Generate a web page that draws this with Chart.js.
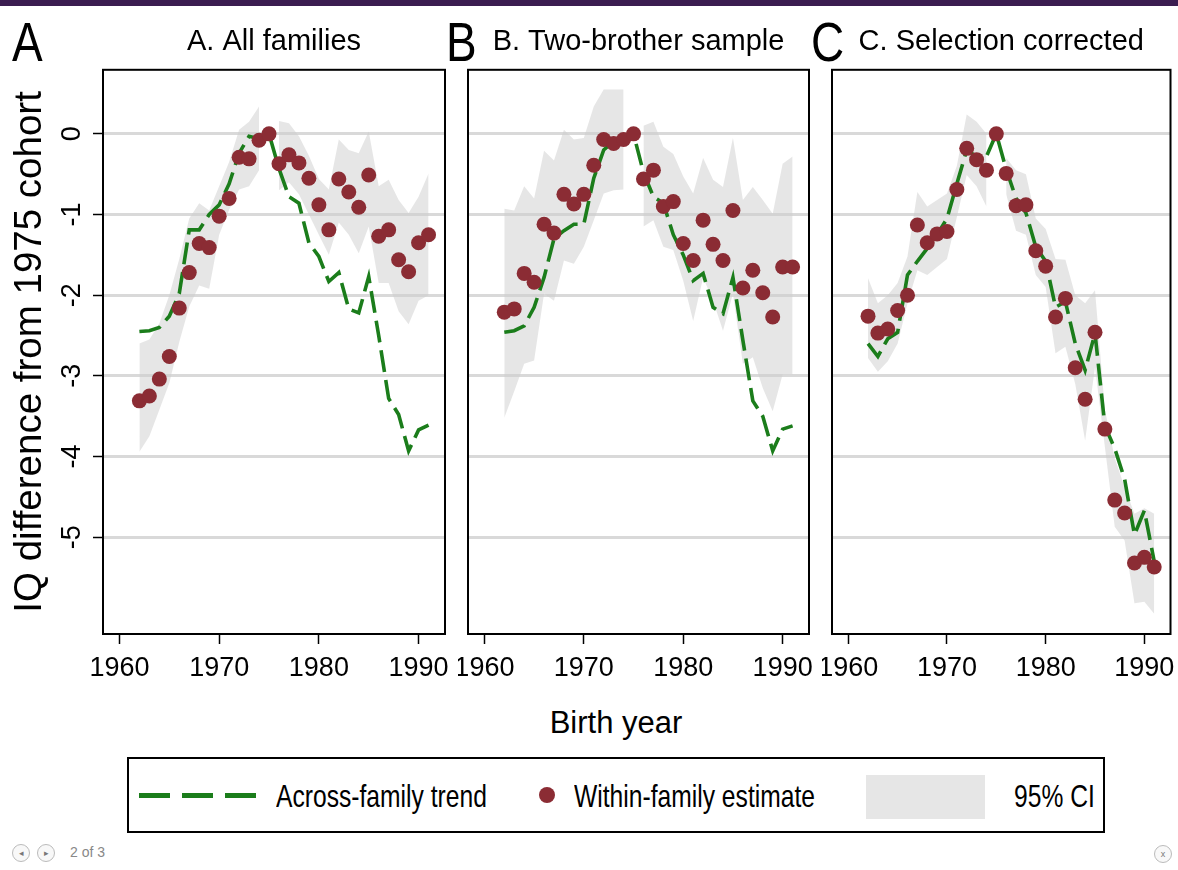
<!DOCTYPE html>
<html>
<head>
<meta charset="utf-8">
<script src="https://cdn.jsdelivr.net/npm/chart.js@4.4.0/dist/chart.umd.min.js"></script>
<style>
  html, body { margin: 0; padding: 0; background: #fff; }
  #page { position: relative; width: 1178px; height: 870px; overflow: hidden; background: #fff;
          font-family: 'Liberation Sans', Arial, sans-serif; color: #000; }
  .topbar { position: absolute; left: 0; top: 0; width: 1178px; height: 6px; background: #3b1d50; }
  canvas { position: absolute; top: 0; }
  .narrow { display: inline-block; transform: scaleX(0.82); transform-origin: 0 0; white-space: nowrap; }
  .letter { position: absolute; top: 10px; font-size: 56px; line-height: 64px; }
  .xtitle { position: absolute; left: 516px; width: 200px; top: 703px; text-align: center; font-size: 31px; line-height: 40px; }
  #legend { position: absolute; left: 127px; top: 757px; width: 974px; height: 72px; border: 2px solid #000; box-sizing: content-box; }
  #legend .item { position: absolute; }
  #legend .txt { position: absolute; top: 17px; line-height: 40px; font-size: 32px; white-space: nowrap; }
  #legend .txt span { transform: scaleX(0.77); }
  .nav { position: absolute; top: 844px; width: 16px; height: 16px; border-radius: 50%; border: 1px solid #bbb;
         font-size: 9px; line-height: 16px; text-align: center; color: #777; background: #f8f8f8; }
  .navtxt { position: absolute; left: 70px; top: 843px; font-size: 14px; line-height: 18px; color: #888; }
</style>
</head>
<body>
<div id="page">
  <div class="topbar"></div>
  <canvas id="panelA" width="460" height="694" style="left:0px"></canvas>
  <canvas id="panelB" width="362" height="694" style="left:458px"></canvas>
  <canvas id="panelC" width="356" height="694" style="left:822px"></canvas>

  <div class="letter" style="left:12px"><span class="narrow">A</span></div>
  <div class="letter" style="left:446px"><span class="narrow">B</span></div>
  <div class="letter" style="left:811px"><span class="narrow">C</span></div>

  <div class="xtitle">Birth year</div>

  <div id="legend">
    <div class="item" style="left:10px;top:34px;width:117px;height:5px;background:repeating-linear-gradient(to right,#1b7d1b 0 31px,transparent 31px 43px);"></div>
    <div class="txt" style="left:147px"><span class="narrow">Across-family trend</span></div>
    <div class="item" style="left:410px;top:28px;width:16px;height:16px;border-radius:50%;background:#8b2c34;"></div>
    <div class="txt" style="left:445px"><span class="narrow">Within-family estimate</span></div>
    <div class="item" style="left:737px;top:16px;width:119px;height:44px;background:#e6e6e6;"></div>
    <div class="txt" style="left:885px"><span class="narrow">95% CI</span></div>
  </div>

  <div class="nav" style="left:12px">&#9666;</div>
  <div class="nav" style="left:37px">&#9656;</div>
  <div class="navtxt">2 of 3</div>
  <div class="nav" style="left:1154px;top:845px">x</div>
</div>

<script>
// Birth cohorts on the horizontal axis
const years = [1962, 1963, 1964, 1965, 1966, 1967, 1968, 1969, 1970, 1971,
               1972, 1973, 1974, 1975, 1976, 1977, 1978, 1979, 1980, 1981,
               1982, 1983, 1984, 1985, 1986, 1987, 1988, 1989, 1990, 1991];

const xTickValues = [1960, 1970, 1980, 1990];
const xTickLabels = ['1960', '1970', '1980', '1990'];
const yTickValues = [0, -1, -2, -3, -4, -5];
const yTickLabels = ['0', '-1', '-2', '-3', '-4', '-5'];

const panelTitles = ['A. All families', 'B. Two-brother sample', 'C. Selection corrected'];

// A. All families
const withinA = [-3.31, -3.25, -3.04, -2.76, -2.16, -1.72, -1.36, -1.41, -1.02, -0.80,
                 -0.29, -0.31, -0.08, 0.00, -0.37, -0.26, -0.36, -0.55, -0.88, -1.19,
                 -0.56, -0.72, -0.91, -0.51, -1.27, -1.19, -1.56, -1.71, -1.35, -1.25];
const acrossA = [-2.45, -2.44, -2.40, -2.26, -1.98, -1.19, -1.19, -1.00, -0.88, -0.62,
                 -0.24, -0.03, -0.06, 0.00, -0.43, -0.78, -0.86, -1.35, -1.52, -1.83,
                 -1.72, -2.17, -2.22, -1.77, -2.50, -3.28, -3.48, -3.93, -3.67, -3.61];
const ciHighA = [-2.60, -2.55, -2.35, -2.00, -1.55, -1.05, -0.86, -0.95, -0.65, -0.35,
                 0.05, 0.15, 0.34, null, 0.16, 0.13, -0.03, -0.27, -0.56, -0.69,
                 -0.07, -0.20, -0.24, 0.03, -0.65, -0.57, -0.82, -0.98, -0.78, -0.49];
const ciLowA  = [-3.94, -3.75, -3.42, -3.09, -2.58, -2.14, -1.88, -1.92, -1.25, -0.94,
                 -0.69, -0.65, -0.45, null, -0.70, -0.60, -0.75, -1.00, -1.25, -1.50,
                 -1.10, -1.25, -1.48, -1.15, -1.85, -1.85, -2.20, -2.36, -2.07, -2.00];

// B. Two-brother sample
const withinB = [-2.21, -2.17, -1.73, -1.84, -1.12, -1.23, -0.75, -0.87, -0.75, -0.39,
                 -0.07, -0.12, -0.07, 0.00, -0.56, -0.45, -0.90, -0.84, -1.36, -1.57,
                 -1.07, -1.37, -1.57, -0.95, -1.91, -1.69, -1.97, -2.27, -1.65, -1.65];
const acrossB = [-2.46, -2.44, -2.38, -2.15, -1.78, -1.30, -1.20, -1.12, -1.12, -0.55,
                 -0.20, -0.09, -0.05, 0.00, -0.48, -0.78, -0.86, -1.25, -1.50, -1.82,
                 -1.73, -2.15, -2.23, -1.78, -2.56, -3.31, -3.50, -3.93, -3.66, -3.62];
const ciHighB = [-0.93, -0.95, -0.65, -0.80, -0.21, -0.33, 0.05, -0.07, -0.05, 0.34,
                 0.55, 0.55, 0.55, null, 0.10, 0.15, -0.16, -0.25, -0.53, -0.74,
                 -0.30, -0.57, -0.66, -0.05, -0.82, -0.66, -0.82, -0.99, -0.37, -0.28];
const ciLowB  = [-3.52, -3.19, -2.85, -2.81, -1.98, -2.07, -1.57, -1.61, -1.40, -1.07,
                 -0.74, -0.70, -0.69, null, -1.15, -1.07, -1.40, -1.44, -1.82, -2.32,
                 -1.78, -2.07, -2.44, -1.98, -2.85, -2.77, -3.15, -3.44, -2.98, -2.98];

// C. Selection corrected
const withinC = [-2.26, -2.47, -2.42, -2.19, -2.00, -1.13, -1.35, -1.24, -1.21, -0.69,
                 -0.18, -0.32, -0.45, 0.00, -0.49, -0.89, -0.88, -1.45, -1.64, -2.27,
                 -2.04, -2.90, -3.29, -2.46, -3.66, -4.54, -4.70, -5.32, -5.25, -5.37];
const acrossC = [-2.60, -2.76, -2.54, -2.46, -1.75, -1.58, -1.42, -1.25, -1.05, -0.62,
                 -0.20, -0.28, -0.28, 0.00, -0.44, -0.80, -0.98, -1.40, -1.58, -2.15,
                 -2.08, -2.60, -2.93, -2.47, -3.62, -3.90, -4.28, -4.97, -4.67, -5.30];
const ciHighC = [-1.79, -2.10, -2.00, -1.85, -1.52, -0.72, -0.90, -0.82, -0.74, -0.40,
                 0.24, 0.15, 0.00, null, -0.30, -0.45, -0.50, -1.05, -1.18, -1.55,
                 -1.56, -2.00, -2.10, -1.94, -3.42, -4.02, -4.38, -4.71, -4.64, -4.71];
const ciLowC  = [-2.78, -2.95, -2.82, -2.60, -2.10, -1.69, -1.75, -1.65, -1.55, -1.03,
                 -0.51, -0.65, -0.90, null, -0.75, -1.20, -1.25, -1.75, -1.90, -2.72,
                 -2.64, -3.10, -3.80, -2.89, -3.88, -4.87, -5.04, -5.82, -5.80, -5.95];

const GREEN = '#1b7d1b';
const DOT = '#8b2c34';
const BAND = 'rgba(205,205,205,0.5)';
const SANS = "'Liberation Sans', Arial, sans-serif";

const X_MIN = 1958.35, X_MAX = 1992.65;
const Y_MIN = -6.2, Y_MAX = 0.794;

// Black box around each plot region
const framePlugin = {
  id: 'frame',
  afterDatasetsDraw(chart) {
    const { ctx, chartArea: a } = chart;
    ctx.save();
    ctx.strokeStyle = '#000';
    ctx.lineWidth = 2;
    ctx.strokeRect(a.left, a.top, a.right - a.left, a.bottom - a.top);
    ctx.restore();
  }
};

function series(values) {
  return years.map((yr, i) => ({ x: yr, y: values[i] }));
}

function makePanel(canvasId, title, within, across, ciLow, ciHigh, showY, padLeft, padRight) {
  return new Chart(document.getElementById(canvasId), {
    type: 'line',
    data: {
      datasets: [
        { label: 'Within-family estimate', data: series(within), showLine: false,
          pointRadius: 7.5, pointHoverRadius: 7.5, pointBackgroundColor: DOT, pointBorderColor: DOT,
          pointBorderWidth: 0, order: 0 },
        { label: 'Across-family trend', data: series(across), borderColor: GREEN, borderWidth: 3.6,
          borderDash: [22, 8], pointRadius: 0, tension: 0, fill: false, order: 1 },
        { label: '95% CI upper', data: series(ciHigh), borderColor: 'transparent', borderWidth: 0,
          pointRadius: 0, tension: 0, fill: 3, backgroundColor: BAND, order: 2 },
        { label: '95% CI lower', data: series(ciLow), borderColor: 'transparent', borderWidth: 0,
          pointRadius: 0, tension: 0, fill: false, order: 3 }
      ]
    },
    options: {
      responsive: false,
      animation: false,
      events: [],
      layout: { padding: { left: padLeft, right: padRight, top: 0, bottom: 0 } },
      plugins: {
        legend: { display: false },
        tooltip: { enabled: false },
        title: { display: true, text: title, fullSize: false, color: '#000',
                 font: { family: SANS, size: 29, weight: 'normal' }, padding: { top: 25, bottom: 10 } }
      },
      scales: {
        x: {
          type: 'linear', min: X_MIN, max: X_MAX,
          afterBuildTicks: s => { s.ticks = xTickValues.map(v => ({ value: v })); },
          afterFit: s => { s.height = 60; s.paddingLeft = 0; s.paddingRight = 0; },
          grid: { drawOnChartArea: false, drawTicks: true, tickLength: 10, tickColor: '#000', tickWidth: 1.5 },
          border: { display: false },
          ticks: { color: '#000', font: { family: SANS, size: 27 }, padding: 8, maxRotation: 0,
                   autoSkip: false, callback: (v, i) => xTickLabels[i] }
        },
        y: {
          type: 'linear', min: Y_MIN, max: Y_MAX,
          afterBuildTicks: s => { s.ticks = yTickValues.map(v => ({ value: v })); },
          afterFit: s => { s.width = showY ? 103 : 0; s.paddingTop = 0; s.paddingBottom = 0; },
          grid: { color: '#d9d9d9', lineWidth: 3, drawTicks: showY, tickLength: 10, tickColor: '#000', tickWidth: 1.5 },
          border: { display: false },
          ticks: { display: showY, color: '#000', font: { family: SANS, size: 27 }, padding: 8,
                   minRotation: 90, maxRotation: 90, crossAlign: 'center', autoSkip: false,
                   callback: (v, i) => yTickLabels[i] },
          title: { display: showY, text: 'IQ difference from 1975 cohort', color: '#000',
                   font: { family: SANS, size: 38.5 }, padding: { top: 7, bottom: 0 } }
        }
      }
    },
    plugins: [framePlugin]
  });
}

makePanel('panelA', panelTitles[0], withinA, acrossA, ciLowA, ciHighA, true, 0, 15);
makePanel('panelB', panelTitles[1], withinB, acrossB, ciLowB, ciHighB, false, 10, 11);
makePanel('panelC', panelTitles[2], withinC, acrossC, ciLowC, ciHighC, false, 10, 5);
</script>
</body>
</html>
